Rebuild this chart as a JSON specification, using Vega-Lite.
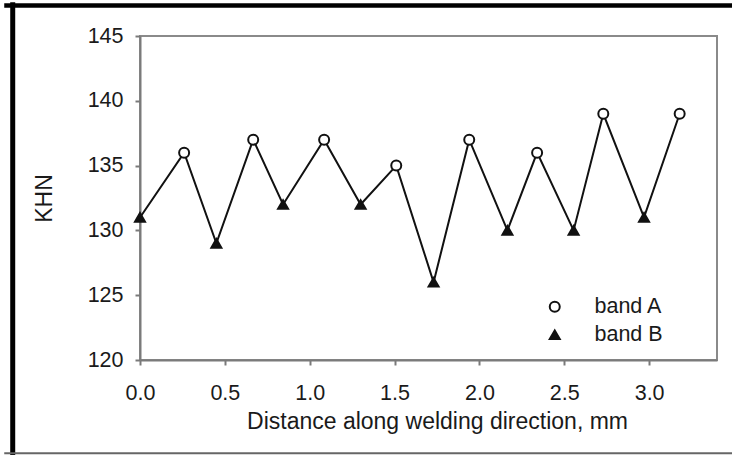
{
  "$schema": "https://vega.github.io/schema/vega-lite/v6.json",
  "autosize": "none",
  "width": 577,
  "height": 324,
  "padding": {"left": 140, "top": 36, "right": 15, "bottom": 95},
  "background": "white",
  "config": {
    "font": "Liberation Sans",
    "view": {"stroke": "#8a8a8a", "strokeWidth": 2},
    "axis": {
      "domainColor": "#7a7a7a",
      "domainWidth": 2,
      "tickColor": "#7a7a7a",
      "tickWidth": 2,
      "tickSize": 5,
      "grid": false,
      "labelFlush": false,
      "labelFont": "Liberation Sans",
      "labelFontSize": 21.5,
      "labelColor": "#1a1a1a",
      "titleFont": "Liberation Sans",
      "titleFontSize": 23,
      "titleFontWeight": "normal",
      "titleColor": "#1a1a1a"
    },
    "legend": {
      "title": null,
      "padding": 0,
      "labelFont": "Liberation Sans",
      "labelFontSize": 21.5,
      "labelColor": "#1a1a1a",
      "labelOffset": 29,
      "symbolSize": 100,
      "symbolStrokeWidth": 2,
      "rowPadding": 5
    }
  },
  "data": {
    "values": [
      {"distance": 0.0, "khn": 131, "band": "band B"},
      {"distance": 0.26, "khn": 136, "band": "band A"},
      {"distance": 0.45, "khn": 129, "band": "band B"},
      {"distance": 0.667, "khn": 137, "band": "band A"},
      {"distance": 0.843, "khn": 132, "band": "band B"},
      {"distance": 1.085, "khn": 137, "band": "band A"},
      {"distance": 1.30, "khn": 132, "band": "band B"},
      {"distance": 1.51, "khn": 135, "band": "band A"},
      {"distance": 1.73, "khn": 126, "band": "band B"},
      {"distance": 1.94, "khn": 137, "band": "band A"},
      {"distance": 2.165, "khn": 130, "band": "band B"},
      {"distance": 2.34, "khn": 136, "band": "band A"},
      {"distance": 2.555, "khn": 130, "band": "band B"},
      {"distance": 2.73, "khn": 139, "band": "band A"},
      {"distance": 2.97, "khn": 131, "band": "band B"},
      {"distance": 3.18, "khn": 139, "band": "band A"}
    ]
  },
  "layer": [
    {
      "mark": {"type": "line", "color": "#111", "strokeWidth": 2},
      "encoding": {
        "x": {
          "field": "distance",
          "type": "quantitative",
          "scale": {"domain": [0, 3.4], "nice": false, "zero": false},
          "axis": {
            "values": [0, 0.5, 1, 1.5, 2, 2.5, 3],
            "format": ".1f",
            "labelPadding": 17,
            "title": "Distance along welding direction, mm",
            "titlePadding": 7,
            "titleX": 297
          }
        },
        "y": {
          "field": "khn",
          "type": "quantitative",
          "scale": {"domain": [120, 145], "nice": false, "zero": false},
          "axis": {
            "values": [120, 125, 130, 135, 140, 145],
            "labelPadding": 12,
            "title": "KHN",
            "titlePadding": 31
          }
        },
        "order": {"field": "distance", "type": "quantitative"}
      }
    },
    {
      "mark": {"type": "point", "size": 100, "strokeWidth": 2, "opacity": 1},
      "encoding": {
        "x": {"field": "distance", "type": "quantitative"},
        "y": {"field": "khn", "type": "quantitative"},
        "shape": {
          "field": "band",
          "type": "nominal",
          "scale": {"domain": ["band A", "band B"], "range": ["circle", "triangle-up"]},
          "legend": {"orient": "none", "legendX": 404, "legendY": 260}
        },
        "fill": {
          "field": "band",
          "type": "nominal",
          "scale": {"domain": ["band A", "band B"], "range": ["white", "#111"]},
          "legend": {"orient": "none", "legendX": 404, "legendY": 260}
        },
        "stroke": {
          "field": "band",
          "type": "nominal",
          "scale": {"domain": ["band A", "band B"], "range": ["#111", "#111"]},
          "legend": {"orient": "none", "legendX": 404, "legendY": 260}
        }
      }
    },
    {
      "data": {"values": [{}]},
      "mark": {"type": "rule", "color": "#000", "strokeWidth": 5, "clip": false},
      "encoding": {
        "x": {"datum": -0.75},
        "y": {"datum": 147.6},
        "y2": {"datum": 112}
      }
    },
    {
      "data": {"values": [{}]},
      "mark": {"type": "rule", "color": "#000", "strokeWidth": 4.5, "clip": false},
      "encoding": {
        "x": {"datum": -0.8},
        "x2": {"datum": 3.7},
        "y": {"datum": 147.35}
      }
    },
    {
      "data": {"values": [{}]},
      "mark": {"type": "rule", "color": "#666", "strokeWidth": 2, "clip": false},
      "encoding": {
        "x": {"datum": -0.8},
        "x2": {"datum": 3.7},
        "y": {"datum": 112.8}
      }
    }
  ]
}
